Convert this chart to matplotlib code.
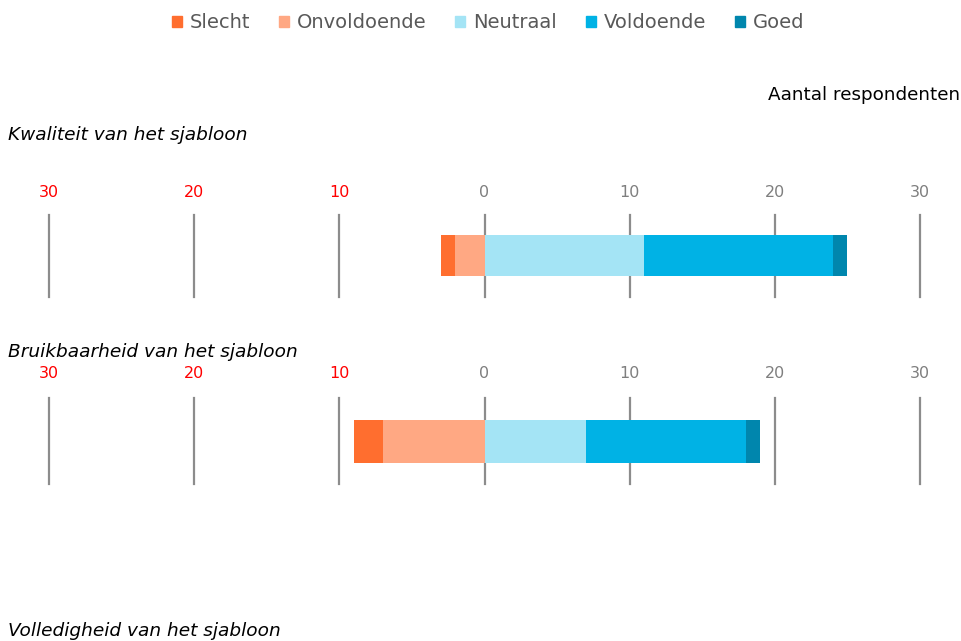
import numpy as np
import matplotlib
matplotlib.use("Agg")
import matplotlib.pyplot as plt
from matplotlib.patches import Patch

# data
titles = ["Kwaliteit van het sjabloon", "Bruikbaarheid van het sjabloon", "Volledigheid van het sjabloon"]
categories = ["Slecht", "Onvoldoende", "Neutraal", "Voldoende", "Goed"]
slecht = [1, 2]
onvoldoende = [2, 7]
neutraal = [11, 7]
voldoende = [13, 11]
goed = [1, 1]
ticks = [-30, -20, -10, 0, 10, 20, 30]
tick_labels = ["30", "20", "10", "0", "10", "20", "30"]

colors = ["#FF6E2F", "#FFA883", "#A4E4F5", "#00B2E5", "#0086AD"]

W, H = 961, 641
fig = plt.figure(figsize=(W / 100, H / 100), dpi=100)
plt.rcParams['font.family'] = 'DejaVu Sans'


def fx(px):
    return px / W


def fy(py):
    return 1 - py / H


# panel layout in pixels: (title y, axes top, axes bottom)
panels = [(135, 215, 297), (352, 398, 484)]

for i, (ty, top, bot) in enumerate(panels):
    fig.text(fx(8), fy(ty), titles[i], style='italic', fontsize=13.3,
             color='#000000', ha='left', va='center')
    ax = fig.add_axes([fx(49), fy(bot), fx(920) - fx(49), (bot - top) / H])
    ax.set_xlim(-30, 30)
    ax.set_ylim(-0.5, 0.5)
    ax.axis('off')
    for t in ticks:
        ax.axvline(t, color='#8c8c8c', lw=1.6, zorder=1, clip_on=False)
    for t, lab in zip(ticks, tick_labels):
        c = '#FF0000' if t < 0 else '#7f7f7f'
        ax.text(t, 1.28, lab, color=c, fontsize=11.5, ha='center', va='center',
                transform=ax.get_xaxis_transform())

    h = 0.5
    # negative side
    ax.barh(0, -onvoldoende[i], left=0, height=h, color=colors[1], zorder=2)
    ax.barh(0, -slecht[i], left=-onvoldoende[i], height=h, color=colors[0], zorder=2)
    # positive side
    ax.barh(0, neutraal[i], left=0, height=h, color=colors[2], zorder=2)
    ax.barh(0, voldoende[i], left=neutraal[i], height=h, color=colors[3], zorder=2)
    ax.barh(0, goed[i], left=neutraal[i] + voldoende[i], height=h, color=colors[4], zorder=2)

# third panel title (rest falls outside the picture)
fig.text(fx(8), fy(631), titles[2], style='italic', fontsize=13.3,
         color='#000000', ha='left', va='center')

fig.text(fx(960), fy(95), "Aantal respondenten", fontsize=13.2,
         color='#000000', ha='right', va='center')

handles = [Patch(color=c, label=l) for c, l in zip(colors, categories)]
fig.legend(handles=handles, loc='center', bbox_to_anchor=(fx(488), fy(23)),
           ncol=5, frameon=False, fontsize=14, labelcolor='#595959',
           handlelength=0.5, handleheight=0.5, handletextpad=0.4, columnspacing=1.5)

fig.savefig("out.png", dpi=100)
